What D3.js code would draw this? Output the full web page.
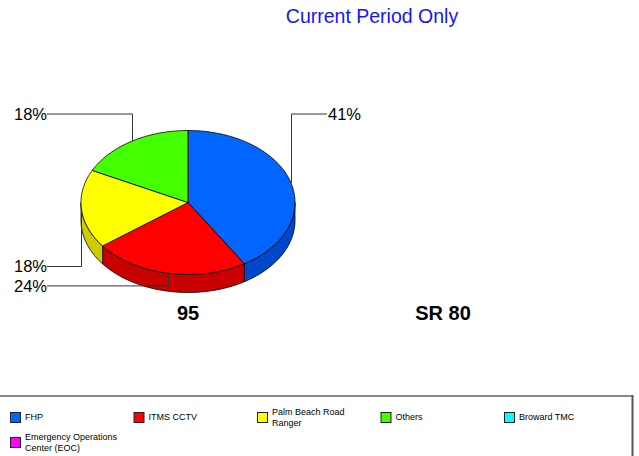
<!DOCTYPE html>
<html>
<head>
<meta charset="utf-8">
<script src="https://cdn.jsdelivr.net/npm/d3@7"></script>
<style>
  html, body { margin: 0; padding: 0; background: #fff; }
  svg { display: block; font-family: "Liberation Sans", Arial, sans-serif; }
</style>
</head>
<body>
<svg id="chart" width="639" height="456"></svg>
<script>
// Incident counts by detection source, one pie per roadway
const categories = ["FHP", "ITMS CCTV", "Palm Beach Road Ranger", "Others", "Broward TMC", "Emergency Operations Center (EOC)"];
const roadways = ["95", "SR 80"];
const values95 = [7, 4, 3, 3, 0, 0];
const valuesSR80 = [0, 0, 0, 0, 0, 0];
const topColors = ["#0066ff", "#ff0000", "#ffff00", "#44ff00", "#00ffff", "#ff00ff"];
const sideColors = ["#0047cc", "#c80000", "#cccc00", "#30cc00", "#00cccc", "#cc00cc"];
const titleText = "Current Period Only";

const svg = d3.select("#chart");
const W = 639, H = 456;

// title
svg.append("text")
  .attr("x", 372).attr("y", 23.3)
  .attr("text-anchor", "middle")
  .attr("fill", "#1414ff")
  .style("font-size", "19.5px")
  .text(titleText);

// one slot per roadway
const slot = d3.scalePoint().domain(roadways).range([188, 443]);
const seriesByRoad = { "95": values95, "SR 80": valuesSR80 };

const rx = 107, ry = 72, depth = 18, cyPie = 202.5;
const pct = d3.format(".0%");

function drawPie(road) {
  const vals = seriesByRoad[road];
  const cx = slot(road);
  const total = d3.sum(vals);
  const g = svg.append("g");

  // roadway label under the pie
  svg.append("text")
    .attr("x", cx).attr("y", 320)
    .attr("text-anchor", "middle")
    .style("font-size", "20px").style("font-weight", "bold")
    .attr("fill", "#000")
    .text(road);

  if (total === 0) return;

  const arcs = d3.pie().sort(null).value(d => d)(vals)
    .map((a, i) => Object.assign(a, { i }))
    .filter(a => a.value > 0);

  const pt = (a, dy = 0) => [cx + rx * Math.sin(a), cyPie - ry * Math.cos(a) + dy];
  const sample = (a0, a1, dy) => {
    const n = Math.max(2, Math.ceil(Math.abs(a1 - a0) / 0.02));
    return d3.range(n + 1).map(k => pt(a0 + (a1 - a0) * k / n, dy));
  };
  const line = d3.line();

  // front walls (visible part of the rim lies between 90° and 270°)
  arcs.forEach(a => {
    const s0 = Math.max(a.startAngle, Math.PI / 2);
    const s1 = Math.min(a.endAngle, 3 * Math.PI / 2);
    if (s0 >= s1) return;
    const pts = sample(s0, s1, 0).concat(sample(s1, s0, depth));
    g.append("path")
      .attr("d", line(pts) + "Z")
      .attr("fill", sideColors[a.i])
      .attr("stroke", "#000").attr("stroke-width", 0.8)
      .attr("stroke-linejoin", "round");
  });

  // top faces
  arcs.forEach(a => {
    const pts = [[cx, cyPie]].concat(sample(a.startAngle, a.endAngle, 0));
    g.append("path")
      .attr("d", line(pts) + "Z")
      .attr("fill", topColors[a.i])
      .attr("stroke", "#000").attr("stroke-width", 0.8)
      .attr("stroke-linejoin", "round");
  });

  // percentage labels with elbow leaders
  const labels = arcs.map(a => {
    const mid = (a.startAngle + a.endAngle) / 2;
    const p = pt(mid);
    return { a, mid, p, text: pct(a.value / total) };
  });
  const topY = cyPie - ry - 16.5;
  const lowLabels = labels.filter(l => Math.cos(l.mid) < 0).sort((m, n) => m.p[0] - n.p[0]);
  lowLabels.forEach((l, k) => { l.y = cyPie + ry - 8 + k * 19.4; });
  labels.filter(l => Math.cos(l.mid) >= 0).forEach(l => { l.y = topY; });

  const lg = svg.append("g");
  labels.forEach(l => {
    const right = Math.sin(l.mid) > 0;
    const xEnd = right ? cx + rx + 32 : 47;
    const x0 = Math.round(l.p[0]) + 0.5;
    lg.append("path")
      .attr("d", `M${x0},${l.p[1]}V${l.y}H${xEnd}`)
      .attr("fill", "none").attr("stroke", "#333").attr("stroke-width", 1);
    lg.append("text")
      .attr("x", right ? xEnd + 1 : xEnd)
      .attr("y", l.y + 5.8)
      .attr("text-anchor", right ? "start" : "end")
      .style("font-size", "16.5px")
      .attr("fill", "#000")
      .text(l.text);
  });
}
roadways.forEach(drawPie);

// legend frame
svg.append("line").attr("x1", 0).attr("x2", 632).attr("y1", 396).attr("y2", 396)
  .attr("stroke", "#888").attr("stroke-width", 2);
svg.append("line").attr("x1", 632.5).attr("x2", 632.5).attr("y1", 395).attr("y2", H)
  .attr("stroke", "#555").attr("stroke-width", 2);

// legend entries: five per row
const perRow = 5;
const colX = d3.scaleLinear().domain([0, 1]).range([10, 133.5]);
const rowY = d3.scaleLinear().domain([0, 1]).range([417, 442]);
const lineH = 10.8;

function wrap(text, maxW, size) {
  const probe = svg.append("text").style("font-size", size + "px").attr("visibility", "hidden");
  const words = text.split(" ");
  const lines = [];
  let cur = "";
  words.forEach(w => {
    const test = cur ? cur + " " + w : w;
    probe.text(test);
    if (probe.node().getComputedTextLength() > maxW && cur) { lines.push(cur); cur = w; }
    else cur = test;
  });
  lines.push(cur);
  probe.remove();
  return lines;
}

const legend = svg.append("g");
categories.forEach((c, i) => {
  const x = colX(i % perRow), yc = rowY(Math.floor(i / perRow));
  const item = legend.append("g");
  item.append("rect")
    .attr("x", x + 0.5).attr("y", yc - 5 + 0.5)
    .attr("width", 10).attr("height", 10)
    .attr("fill", topColors[i]).attr("stroke", "#222").attr("stroke-width", 1);
  const lines = wrap(c, 100, 9);
  const first = yc + 3.2 - (lines.length - 1) * lineH / 2;
  const t = item.append("text")
    .attr("x", x + 15).attr("y", first)
    .style("font-size", "9px").attr("fill", "#000");
  lines.forEach((s, k) => {
    t.append("tspan").attr("x", x + 15).attr("y", first + k * lineH).text(s);
  });
});
</script>
</body>
</html>
